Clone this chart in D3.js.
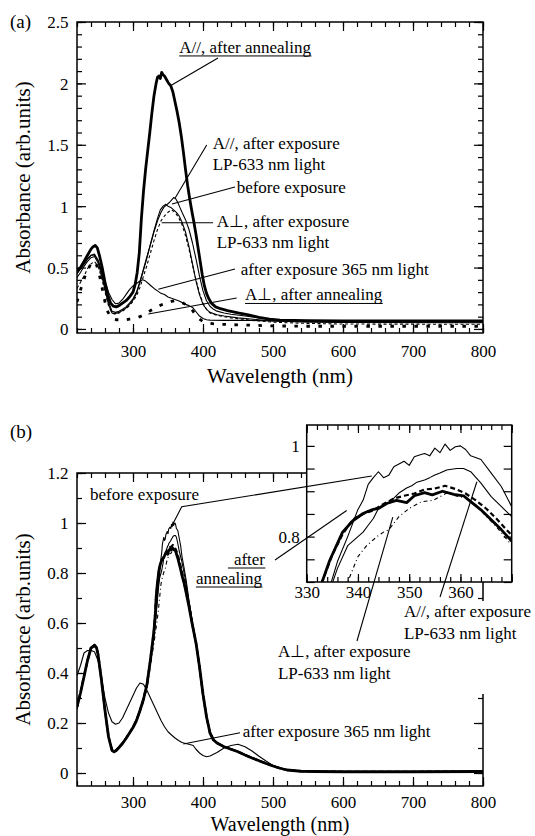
<!DOCTYPE html>
<html>
<head>
<meta charset="utf-8">
<script src="https://cdn.jsdelivr.net/npm/d3@7"></script>
<style>
  html, body { margin: 0; padding: 0; background: #fff; }
  svg { display: block; }
</style>
</head>
<body>
<svg id="chart" width="535" height="836"></svg>
<script>
// ---------- data: panel (a), absorbance spectra [wavelength nm, absorbance] ----------
const aParAnneal = [[220,0.47],[225,0.5],[230,0.55],[235,0.6],[240,0.65],[243,0.67],[246,0.68],[249,0.66],[252,0.6],[256,0.5],[260,0.38],[264,0.28],[268,0.21],[272,0.185],[276,0.18],[280,0.19],[285,0.21],[290,0.23],[295,0.26],[300,0.3],[303,0.36],[306,0.46],[309,0.62],[312,0.9],[315,1.12],[318,1.3],[321,1.45],[324,1.6],[327,1.76],[330,1.9],[333,2.0],[335,2.05],[337,2.06],[339,2.04],[341,2.09],[343,2.07],[345,2.06],[348,2.03],[351,2.0],[354,1.98],[357,1.93],[360,1.85],[363,1.77],[366,1.68],[369,1.57],[372,1.44],[375,1.3],[378,1.17],[381,1.06],[384,0.96],[387,0.87],[390,0.77],[393,0.66],[396,0.55],[399,0.44],[402,0.35],[405,0.29],[408,0.25],[412,0.21],[418,0.18],[425,0.165],[435,0.15],[450,0.13],[465,0.115],[480,0.095],[495,0.08],[510,0.072],[550,0.068],[600,0.066],[700,0.065],[800,0.065]];
const aParLP = [[220,0.45],[225,0.49],[230,0.53],[235,0.57],[240,0.6],[245,0.61],[250,0.56],[255,0.46],[260,0.34],[265,0.22],[270,0.145],[275,0.135],[280,0.145],[285,0.16],[290,0.18],[295,0.21],[300,0.245],[305,0.3],[310,0.39],[315,0.49],[320,0.59],[325,0.69],[330,0.79],[335,0.88],[340,0.95],[344,0.99],[348,1.01],[352,1.03],[355,1.05],[358,1.07],[361,1.06],[364,1.03],[367,0.99],[370,0.95],[375,0.89],[380,0.81],[385,0.7],[390,0.57],[395,0.43],[400,0.31],[405,0.23],[410,0.185],[415,0.16],[420,0.145],[430,0.13],[440,0.12],[460,0.105],[480,0.09],[500,0.075],[520,0.065],[600,0.06],[700,0.058],[800,0.058]];
const aBefore = [[220,0.42],[225,0.46],[230,0.51],[235,0.55],[240,0.58],[245,0.59],[250,0.54],[255,0.44],[260,0.32],[265,0.2],[270,0.13],[275,0.125],[280,0.135],[285,0.15],[290,0.17],[295,0.2],[300,0.235],[305,0.29],[310,0.38],[315,0.48],[320,0.58],[325,0.69],[330,0.8],[335,0.9],[339,0.97],[343,1.0],[347,1.015],[350,1.0],[354,0.99],[358,0.97],[362,0.95],[366,0.92],[370,0.87],[375,0.79],[380,0.67],[385,0.53],[390,0.39],[395,0.28],[400,0.2],[405,0.16],[410,0.135],[420,0.115],[430,0.105],[450,0.09],[480,0.075],[500,0.065],[550,0.055],[600,0.052],[800,0.05]];
const aPerpLP = [[220,0.33],[225,0.38],[230,0.43],[235,0.49],[240,0.53],[245,0.55],[250,0.51],[255,0.42],[260,0.3],[265,0.19],[270,0.13],[275,0.12],[280,0.13],[285,0.145],[290,0.165],[295,0.19],[300,0.225],[305,0.27],[310,0.34],[315,0.43],[320,0.52],[325,0.62],[330,0.72],[335,0.81],[340,0.88],[345,0.92],[350,0.95],[355,0.97],[360,0.95],[365,0.91],[370,0.85],[375,0.76],[380,0.65],[385,0.52],[390,0.4],[395,0.29],[400,0.21],[405,0.16],[410,0.13],[420,0.11],[440,0.09],[470,0.07],[500,0.055],[550,0.045],[600,0.04],[800,0.038]];
const a365 = [[220,0.45],[225,0.49],[230,0.53],[235,0.57],[240,0.6],[245,0.6],[250,0.56],[255,0.48],[260,0.39],[265,0.3],[270,0.24],[275,0.205],[280,0.21],[285,0.24],[290,0.28],[295,0.32],[300,0.35],[305,0.37],[310,0.39],[314,0.4],[318,0.39],[322,0.37],[326,0.35],[330,0.33],[335,0.31],[340,0.29],[345,0.28],[350,0.26],[355,0.25],[360,0.24],[365,0.23],[370,0.215],[375,0.2],[380,0.19],[385,0.175],[390,0.14],[395,0.105],[400,0.085],[405,0.075],[410,0.072],[430,0.07],[450,0.07],[480,0.068],[500,0.066],[600,0.062],[700,0.06],[800,0.06]];
const aPerpAnneal = [[220,0.22],[224,0.3],[228,0.37],[232,0.44],[236,0.49],[240,0.53],[244,0.55],[248,0.52],[252,0.44],[256,0.33],[260,0.22],[264,0.14],[268,0.1],[272,0.08],[276,0.075],[280,0.075],[285,0.08],[290,0.075],[295,0.08],[300,0.085],[305,0.09],[310,0.1],[315,0.115],[320,0.13],[325,0.15],[330,0.165],[335,0.18],[340,0.195],[345,0.205],[350,0.215],[355,0.225],[360,0.23],[365,0.225],[370,0.215],[375,0.2],[380,0.18],[385,0.15],[390,0.11],[395,0.08],[400,0.06],[405,0.05],[410,0.045],[420,0.04],[440,0.035],[470,0.03],[500,0.025],[550,0.022],[600,0.022],[700,0.022],[800,0.022]];

// ---------- data: panel (b) ----------
const bBefore = [[220,0.26],[225,0.32],[230,0.39],[235,0.45],[240,0.5],[245,0.515],[248,0.505],[250,0.48],[255,0.38],[260,0.26],[265,0.15],[270,0.095],[273,0.088],[276,0.092],[280,0.105],[285,0.12],[290,0.14],[295,0.16],[300,0.185],[305,0.215],[310,0.255],[315,0.3],[320,0.36],[325,0.46],[330,0.56],[332,0.61],[334,0.67],[336,0.745],[338,0.8],[340,0.86],[341,0.88],[342,0.915],[343,0.93],[344,0.943],[345,0.93],[346,0.935],[347,0.954],[348,0.96],[349,0.966],[350,0.957],[351,0.976],[352,0.98],[353,0.983],[354,0.978],[355,0.995],[356,0.985],[357,1.004],[358,0.99],[359,0.998],[360,1.0],[361,0.992],[362,0.978],[364,0.97],[366,0.94],[368,0.91],[370,0.866],[373,0.82],[376,0.77],[380,0.69],[385,0.6],[390,0.52],[395,0.43],[400,0.32],[405,0.23],[410,0.165],[415,0.135],[420,0.122],[430,0.107],[440,0.097],[450,0.087],[460,0.074],[470,0.062],[480,0.051],[490,0.04],[500,0.03],[510,0.021],[520,0.014],[540,0.008],[560,0.006],[600,0.005],[700,0.005],[800,0.006]];
const bParLP = [[220,0.26],[225,0.32],[230,0.39],[235,0.45],[240,0.5],[245,0.512],[248,0.502],[250,0.478],[255,0.375],[260,0.255],[265,0.148],[270,0.093],[273,0.087],[276,0.091],[280,0.104],[285,0.119],[290,0.139],[295,0.16],[300,0.184],[305,0.213],[310,0.252],[315,0.297],[320,0.355],[325,0.45],[330,0.55],[332,0.6],[334,0.665],[336,0.73],[338,0.78],[340,0.8],[341,0.81],[342,0.825],[343,0.84],[344,0.862],[345,0.868],[346,0.875],[347,0.885],[348,0.896],[349.5,0.907],[350.5,0.912],[351.5,0.92],[353,0.925],[354,0.93],[355,0.936],[356,0.94],[357.3,0.947],[359.3,0.95],[360.6,0.95],[362,0.943],[364,0.918],[366,0.888],[368,0.866],[370,0.844],[373,0.8],[376,0.755],[380,0.685],[385,0.6],[390,0.52],[395,0.43],[400,0.32],[405,0.23],[410,0.165],[415,0.134],[420,0.121],[430,0.106],[440,0.096],[450,0.086],[460,0.073],[470,0.061],[480,0.05],[490,0.039],[500,0.029],[510,0.02],[520,0.013],[540,0.008],[560,0.006],[600,0.005],[700,0.005],[800,0.006]];
const bPerpLP = [[220,0.255],[225,0.315],[230,0.385],[235,0.445],[240,0.495],[245,0.51],[248,0.5],[250,0.476],[255,0.372],[260,0.252],[265,0.146],[270,0.092],[273,0.086],[276,0.09],[280,0.103],[285,0.118],[290,0.137],[295,0.158],[300,0.18],[305,0.207],[310,0.243],[315,0.285],[320,0.34],[325,0.43],[330,0.52],[332,0.56],[334,0.6],[336,0.645],[338,0.7],[340,0.756],[341.7,0.78],[343.7,0.8],[345,0.81],[346,0.815],[348,0.844],[350,0.862],[352.4,0.877],[354.7,0.88],[357.3,0.896],[359,0.89],[361,0.885],[363,0.87],[365,0.845],[367,0.822],[369.7,0.785],[373,0.75],[376,0.71],[380,0.66],[385,0.585],[390,0.51],[395,0.42],[400,0.31],[405,0.222],[410,0.16],[415,0.132],[420,0.12],[430,0.105],[440,0.095],[450,0.085],[460,0.072],[470,0.06],[480,0.049],[490,0.038],[500,0.028],[510,0.019],[520,0.013],[540,0.008],[560,0.006],[600,0.005],[700,0.005],[800,0.006]];
const bAnnealDash = [[220,0.262],[225,0.322],[230,0.388],[235,0.45],[240,0.5],[245,0.512],[248,0.502],[250,0.477],[255,0.372],[260,0.252],[265,0.146],[270,0.091],[273,0.086],[276,0.09],[280,0.103],[285,0.119],[290,0.139],[295,0.16],[300,0.183],[305,0.211],[310,0.25],[315,0.296],[320,0.356],[325,0.455],[330,0.57],[333,0.7],[335,0.76],[337,0.805],[339,0.838],[341,0.85],[343,0.858],[345,0.872],[347,0.884],[349,0.89],[351,0.895],[353,0.904],[355,0.906],[357,0.912],[359,0.905],[361,0.895],[363,0.88],[365,0.862],[367,0.84],[369,0.815],[370,0.803],[373,0.77],[376,0.73],[380,0.672],[385,0.592],[390,0.52],[395,0.425],[400,0.315],[405,0.225],[410,0.16],[415,0.132],[420,0.12],[430,0.105],[440,0.095],[450,0.085],[460,0.072],[470,0.06],[480,0.049],[490,0.038],[500,0.028],[510,0.019],[520,0.012],[540,0.007],[560,0.006],[600,0.005],[700,0.005],[800,0.006]];
const bAnneal = [[220,0.265],[225,0.32],[230,0.385],[235,0.45],[240,0.5],[245,0.51],[248,0.5],[250,0.475],[255,0.37],[260,0.25],[265,0.145],[270,0.09],[273,0.085],[276,0.09],[280,0.102],[285,0.118],[290,0.138],[295,0.16],[300,0.182],[305,0.21],[310,0.25],[315,0.295],[320,0.355],[325,0.455],[330,0.57],[332,0.64],[333,0.7],[334.5,0.748],[336,0.785],[337,0.81],[339,0.835],[341,0.851],[342,0.856],[343,0.86],[344,0.862],[345.6,0.873],[347.5,0.88],[349.5,0.875],[351,0.89],[353,0.897],[354.5,0.892],[356.5,0.9],[358.7,0.893],[360.6,0.89],[362,0.877],[364,0.859],[366,0.837],[368,0.815],[370,0.79],[373,0.76],[376,0.72],[380,0.665],[385,0.59],[390,0.52],[395,0.425],[400,0.315],[405,0.225],[410,0.16],[415,0.132],[420,0.12],[430,0.105],[440,0.095],[450,0.085],[460,0.072],[470,0.06],[480,0.049],[490,0.038],[500,0.028],[510,0.019],[520,0.012],[540,0.007],[560,0.006],[600,0.005],[700,0.005],[800,0.006]];
const b365 = [[220,0.39],[225,0.43],[230,0.48],[235,0.49],[240,0.49],[245,0.485],[250,0.45],[255,0.38],[260,0.3],[265,0.24],[270,0.205],[275,0.195],[280,0.2],[285,0.22],[290,0.25],[295,0.28],[300,0.31],[305,0.34],[310,0.36],[315,0.355],[320,0.33],[325,0.3],[330,0.27],[335,0.24],[340,0.21],[345,0.185],[350,0.165],[355,0.152],[360,0.14],[365,0.13],[370,0.122],[375,0.118],[380,0.115],[386,0.11],[390,0.095],[395,0.08],[400,0.07],[405,0.065],[410,0.068],[420,0.082],[430,0.1],[440,0.11],[450,0.115],[460,0.105],[470,0.088],[480,0.067],[490,0.048],[500,0.03],[510,0.02],[520,0.012],[540,0.007],[600,0.005],[700,0.005],[800,0.006]];

// ---------- axis ticks and labels ----------
const wlDomain = [220, 800];
const wlTicks = [300, 400, 500, 600, 700, 800];
const absTicksA = [0, 0.5, 1, 1.5, 2, 2.5];
const absTicksB = [0, 0.2, 0.4, 0.6, 0.8, 1, 1.2];
const insetWlTicks = [330, 340, 350, 360, 370];
const insetWlLabels = [330, 340, 350, 360];
const insetAbsTicks = [0.7, 0.75, 0.8, 0.85, 0.9, 0.95, 1];
const insetAbsLabels = [0.8, 1];

const FONT = "'Liberation Serif','Times New Roman',Times,serif";
const svg = d3.select('#chart');

// ---------- scales ----------
const xA = d3.scaleLinear().domain(wlDomain).range([77, 483]);
const yA = d3.scaleLinear().domain([-0.033, 2.5]).range([333, 22]);
const xB = d3.scaleLinear().domain(wlDomain).range([77, 483]);
const yB = d3.scaleLinear().domain([-0.052, 1.2]).range([786, 473]);
const xI = d3.scaleLinear().domain([330, 370]).range([306.7, 511.7]);
const yI = d3.scaleLinear().domain([0.7, 1.046]).range([582, 425]);

// draw one tick set with a d3 axis, ticks pointing into the plot
function tickSet(g, axis, transform, values, len, fmt) {
  const a = g.append('g').attr('transform', transform)
    .call(axis.tickValues(values).tickSize(-len).tickFormat(fmt || (() => '')));
  a.select('.domain').remove();
  a.attr('font-family', FONT).attr('font-size', 17);
  a.selectAll('line').attr('stroke', '#000').attr('stroke-width', 1.2);
  a.selectAll('text').attr('fill', '#000');
  return a;
}

function frame(g, x, y, spec) {
  const [l, r] = x.range(), [b, t] = y.range();
  // minor ticks
  if (spec.xMinor) {
    tickSet(g, d3.axisBottom(x), `translate(0,${b})`, spec.xMinor, spec.minorLen);
    tickSet(g, d3.axisTop(x), `translate(0,${t})`, spec.xMinor, spec.minorLen);
  }
  if (spec.yMinor) {
    tickSet(g, d3.axisLeft(y), `translate(${l},0)`, spec.yMinor, spec.minorLen);
    tickSet(g, d3.axisRight(y), `translate(${r},0)`, spec.yMinor, spec.minorLen);
  }
  // major ticks with labels
  const xl = new Set(spec.xLabels), yl = new Set(spec.yLabels);
  const bx = tickSet(g, d3.axisBottom(x), `translate(0,${b})`, spec.xMajor, spec.majorLen, d => xl.has(d) ? String(d) : '');
  bx.selectAll('text').attr('y', spec.xLabelDy).attr('dy', null);
  tickSet(g, d3.axisTop(x), `translate(0,${t})`, spec.xMajor, spec.majorLen);
  const ly = tickSet(g, d3.axisLeft(y), `translate(${l},0)`, spec.yMajor, spec.yMajorLen || spec.majorLen, d => yl.has(d) ? String(d) : '');
  ly.selectAll('text').attr('x', -spec.yLabelDx).attr('dy', '0.35em');
  tickSet(g, d3.axisRight(y), `translate(${r},0)`, spec.yMajor, spec.yMajorLen || spec.majorLen);
  g.append('rect').attr('x', l).attr('y', t).attr('width', r - l).attr('height', b - t)
    .attr('fill', 'none').attr('stroke', '#000').attr('stroke-width', 1.5);
}

function curves(g, x, y, series, clipId) {
  const [l, r] = x.range(), [b, t] = y.range();
  g.append('clipPath').attr('id', clipId).append('rect')
    .attr('x', l).attr('y', t).attr('width', r - l).attr('height', b - t);
  const line = d3.line().x(d => x(d[0])).y(d => y(d[1]));
  g.append('g').attr('clip-path', `url(#${clipId})`)
    .selectAll('path').data(series).join('path')
    .attr('d', s => line(s.data))
    .attr('fill', 'none').attr('stroke', '#000')
    .attr('stroke-width', s => s.width)
    .attr('stroke-dasharray', s => s.dash || null)
    .attr('stroke-linejoin', 'round');
}

function text(g, str, px, py, opt = {}) {
  const t = g.append('text').attr('x', px).attr('y', py)
    .attr('font-family', FONT).attr('font-size', opt.size || 17)
    .attr('text-anchor', opt.anchor || 'start').attr('fill', '#000').text(str);
  if (opt.underline) {
    const bb = t.node().getBBox();
    g.append('line').attr('x1', bb.x - (opt.ulPad || 0)).attr('x2', bb.x + bb.width)
      .attr('y1', py + 3).attr('y2', py + 3).attr('stroke', '#000').attr('stroke-width', 1);
  }
  return t;
}

function leader(g, pts) {
  g.append('path').attr('d', d3.line()(pts)).attr('fill', 'none')
    .attr('stroke', '#000').attr('stroke-width', 1.1);
}

const xMinor = d3.range(220, 801, 20);

// ================= panel (a) =================
const gA = svg.append('g');
curves(gA, xA, yA, [
  { data: aBefore, width: 1.1 },
  { data: aParLP, width: 1.1 },
  { data: aPerpLP, width: 1.1, dash: '3 2.5' },
  { data: a365, width: 1.1 },
  { data: aPerpAnneal, width: 2.8, dash: '3.5 8.5' },
  { data: aParAnneal, width: 2.8 }
], 'clipA');
frame(gA, xA, yA, {
  xMajor: wlTicks, xLabels: wlTicks, xMinor: xMinor,
  yMajor: absTicksA, yLabels: absTicksA, yMinor: d3.range(0, 2.51, 0.1),
  majorLen: 9, minorLen: 5, xLabelDy: 24, yLabelDx: 8.5
});
text(gA, '(a)', 10, 28, { size: 19 });
text(gA, 'Wavelength (nm)', 280, 383, { size: 21, anchor: 'middle' });
gA.append('text').attr('transform', `translate(30,${(22 + 333) / 2}) rotate(-90)`)
  .attr('font-family', FONT).attr('font-size', 21).attr('text-anchor', 'middle')
  .text('Absorbance (arb.units)');

// annotations, anchored in data units
const P = (w, v) => [xA(w), yA(v)];
const annA = [
  { lines: ['A//, after annealing'], at: [366.1, 2.248], underline: true, to: [[421.4, 2.207], [352.9, 1.979]] },
  { lines: ['A//, after exposure', 'LP-633 nm light'], at: [413.9, 1.466], to: [[405.3, 1.498], [360, 1.064]] },
  { lines: ['before exposure'], at: [448.1, 1.107], to: [[445.7, 1.156], [355.7, 1.018]] },
  { lines: ['A\u22A5, after exposure', 'LP-633 nm light'], at: [419.6, 0.83], to: [[414.3, 0.865], [341, 0.865]] },
  { lines: ['after exposure 365 nm light'], at: [453.9, 0.439], to: [[445.7, 0.488], [336.1, 0.323]] },
  { lines: ['A\u22A5, after annealing'], at: [460, 0.232], underline: true, to: [[448.1, 0.252], [321.9, 0.122]] }
];
annA.forEach(a => {
  const [px, py] = P(a.at[0], a.at[1]);
  a.lines.forEach((s, i) => text(gA, s, px, py + i * 21, { underline: a.underline }));
  leader(gA, a.to.map(d => P(d[0], d[1])));
});

// ================= panel (b) =================
const gB = svg.append('g');
const seriesB = [
  { data: b365, width: 1.1 },
  { data: bBefore, width: 1.1 },
  { data: bParLP, width: 1.1 },
  { data: bPerpLP, width: 1.1, dash: '4 3 1 3' },
  { data: bAnnealDash, width: 2.2, dash: '5 3' },
  { data: bAnneal, width: 2.8 }
];
curves(gB, xB, yB, seriesB, 'clipB');
frame(gB, xB, yB, {
  xMajor: wlTicks, xLabels: wlTicks, xMinor: xMinor,
  yMajor: absTicksB, yLabels: absTicksB, yMinor: d3.range(0, 1.21, 0.1),
  majorLen: 9, minorLen: 5, xLabelDy: 22, yLabelDx: 8.5
});
text(gB, '(b)', 10, 438, { size: 19 });
text(gB, 'Wavelength (nm)', 280, 831, { size: 20, anchor: 'middle' });
gB.append('text').attr('transform', `translate(30,${(473 + 786) / 2}) rotate(-90)`)
  .attr('font-family', FONT).attr('font-size', 21).attr('text-anchor', 'middle')
  .text('Absorbance (arb.units)');

// the inset and its notes sit on white, masking the outer frame behind them
gB.append('rect').attr('x', 306.7).attr('y', 425).attr('width', 205).attr('height', 157).attr('fill', '#fff');
gB.append('rect').attr('x', 470).attr('y', 601).attr('width', 30).attr('height', 93).attr('fill', '#fff');

// inset: close-up of the 330-370 nm band
const gI = svg.append('g');
curves(gI, xI, yI, seriesB.slice(1), 'clipI');
frame(gI, xI, yI, {
  xMajor: insetWlTicks, xLabels: insetWlLabels, xMinor: d3.range(330, 370.1, 2),
  yMajor: insetAbsTicks, yLabels: insetAbsLabels, yMinor: null,
  majorLen: 8, minorLen: 5, yMajorLen: 8, xLabelDy: 16, yLabelDx: 7
});

const PB = (w, v) => [xB(w), yB(v)];
const PI = (w, v) => [xI(w), yI(v)];
text(gB, 'before exposure', ...PB(238.6, 1.092));
leader(svg, [PB(357.6, 1.0), PB(369.6, 1.065), PI(342.7, 0.9335)]);

text(gB, 'after', ...PB(488.6, 0.832), { anchor: 'end', underline: true, ulPad: 6 });
text(gB, 'annealing', ...PB(484.3, 0.756), { anchor: 'end', underline: true });
leader(svg, [PB(502.9, 0.852), PI(337.8, 0.8575)]);

text(gB, 'after exposure 365 nm light', ...PB(456.7, 0.144));
leader(svg, [PB(452.9, 0.161), PB(371.9, 0.116)]);

const pPerp = PB(507.1, 0.464);
text(gB, 'A\u22A5, after exposure', pPerp[0], pPerp[1]);
text(gB, 'LP-633 nm light', pPerp[0], pPerp[1] + 22);
leader(svg, [PB(620, 0.528), PI(346.8, 0.843)]);

const pPar = PB(687.1, 0.624);
text(gB, 'A//, after exposure', pPar[0], pPar[1]);
text(gB, 'LP-633 nm light', pPar[0], pPar[1] + 22);
leader(svg, [PB(738.6, 0.704), PI(363.2, 0.921)]);
</script>
</body>
</html>
